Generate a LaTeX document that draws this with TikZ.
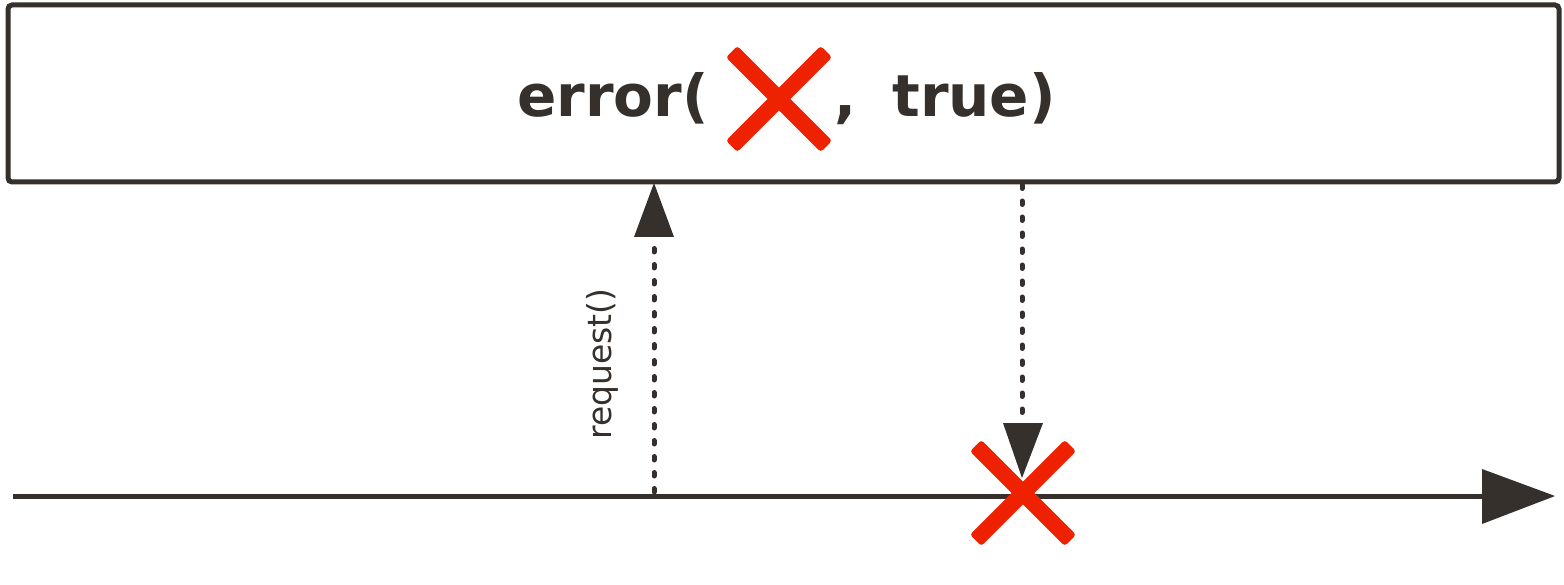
\documentclass[tikz,border=0pt]{standalone}
\usepackage{fontspec}
\setmainfont{DejaVu Sans}
\definecolor{ink}{HTML}{35302B}
\definecolor{xred}{HTML}{EE2200}
\begin{document}
\begin{tikzpicture}[x=1pt,y=-1pt,
  frame/.style={draw=ink,line width=5pt,rounded corners=4pt,outer sep=0pt},
  title/.style={text=ink,font=\fontsize{58}{60}\selectfont\bfseries,inner sep=0pt},
  lbl/.style={text=ink,font=\fontsize{33}{35}\selectfont,inner sep=0pt},
  xbar/.style={fill=xred,rectangle,minimum width=134pt,minimum height=16pt,rounded corners=3pt,inner sep=0pt},
  dotline/.style={draw=ink,line width=5pt,line cap=round,dash pattern=on 3.5pt off 12.5pt},
  tip/.style={fill=ink,draw=none}]
\useasboundingbox (0,0) rectangle (1564,585);
\fill[white] (0,0) rectangle (1564,585);
% main box
\node[frame,minimum width=1551pt,minimum height=177pt,inner sep=0pt,anchor=north west] (box) at (8,5) {};
% title text
\node[title,anchor=base east] (t1) at (709,117) {error(};
\node[xbar,rotate=45] (x1a) at (779,99) {};
\node[xbar,rotate=-45] (x1b) at (779,99) {};
\node[title,anchor=base west] (t2) at (834,117) {,};
\node[title,anchor=base east] (t3) at (1056,117) {true)};
% timeline
\coordinate (tl0) at (13,496);
\coordinate (tl1) at (1485,496);
\coordinate (tlE) at (1555,496);
\draw[draw=ink,line width=5pt] (tl0) -- (tl1);
\fill[tip] (tlE) -- (1482,469) -- (1482,524) -- cycle;
% request arrow
\coordinate (r0) at (654,492);
\coordinate (r1) at (654,240);
\coordinate (rt) at (654,183);
\draw[dotline] (r0) -- (r1);
\fill[tip] (rt) -- (674,237) -- (634,237) -- cycle;
\node[lbl,rotate=90] (req) at (602,364) {request()};
% error arrow
\coordinate (e0) at (1022,185);
\coordinate (e1) at (1022,420);
\coordinate (et) at (1022,478);
\draw[dotline] (e0) -- (e1);
% red X on timeline
\node[xbar,rotate=45] (x2a) at (1023,493) {};
\node[xbar,rotate=-45] (x2b) at (1023,493) {};
\fill[tip] (et) -- (1003,423) -- (1043,423) -- cycle;
\end{tikzpicture}
\end{document}
